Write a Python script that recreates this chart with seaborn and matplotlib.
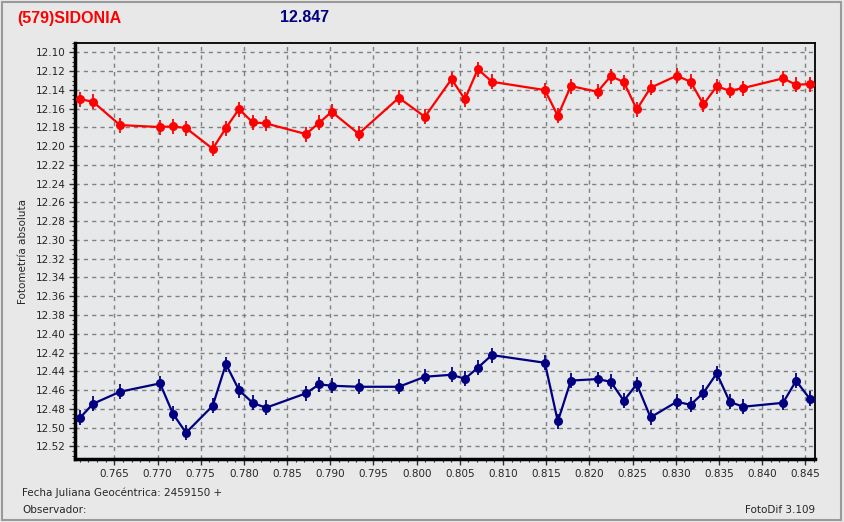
import numpy as np
import pandas as pd
import matplotlib
matplotlib.use('Agg')
import matplotlib.pyplot as plt
from matplotlib.ticker import MultipleLocator
import seaborn as sns

# fecha juliana (fraccion) de cada toma
jd = [0.76103, 0.76254, 0.76566, 0.77029, 0.77179, 0.77330, 0.77639, 0.77792,
      0.77943, 0.78101, 0.78255, 0.78718, 0.78872, 0.79016, 0.79328, 0.79794,
      0.80095, 0.80404, 0.80558, 0.80708, 0.80870, 0.81484, 0.81634, 0.81785,
      0.82094, 0.82247, 0.82398, 0.82548, 0.82707, 0.83011, 0.83170, 0.83320,
      0.83474, 0.83624, 0.83778, 0.84241, 0.84392, 0.84550]

mag_red = [12.1498, 12.1527, 12.1775, 12.1796, 12.1789, 12.1807, 12.2028, 12.1807,
           12.1604, 12.1746, 12.1757, 12.1871, 12.1751, 12.1633, 12.1868, 12.1484,
           12.1687, 12.1285, 12.1501, 12.1178, 12.1313, 12.1402, 12.1676, 12.1359,
           12.1420, 12.1253, 12.1317, 12.1608, 12.1377, 12.1249, 12.1313, 12.1554,
           12.1362, 12.1409, 12.1381, 12.1277, 12.1345, 12.1338]

mag_blue = [12.4896, 12.4746, 12.4618, 12.4529, 12.4853, 12.5055, 12.4768, 12.4323,
            12.4600, 12.4736, 12.4789, 12.4635, 12.4539, 12.4554, 12.4565, 12.4565,
            12.4458, 12.4437, 12.4480, 12.4362, 12.4227, 12.4309, 12.4934, 12.4499,
            12.4483, 12.4512, 12.4714, 12.4536, 12.4891, 12.4725, 12.4757, 12.4629,
            12.4422, 12.4725, 12.4778, 12.4736, 12.4501, 12.4693]

err = 0.008

bg = '#e8e8e9'
sns.set_theme(style='white', rc={'axes.facecolor': '#e6e8ea', 'figure.facecolor': bg})
plt.rcParams['font.family'] = ['DejaVu Sans']

df = pd.DataFrame({'jd': jd, 'red': mag_red, 'blue': mag_blue})

fig = plt.figure(figsize=(8.44, 5.22), dpi=100)
ax = fig.add_axes([75 / 844, 1 - 459 / 522, 740 / 844, 416 / 522])

for col, c in [('red', '#ff0000'), ('blue', '#000080')]:
    ax.errorbar(df['jd'], df[col], yerr=err, fmt='none', ecolor=c, elinewidth=1.3, zorder=3)
    sns.lineplot(data=df, x='jd', y=col, ax=ax, color=c, lw=1.6, marker='o',
                 markersize=6.5, markeredgewidth=0, zorder=4)

ax.set_xlim(0.76045, 0.84611)
ax.set_ylim(12.5335, 12.090)
ax.xaxis.set_major_locator(MultipleLocator(0.005))
ax.yaxis.set_major_locator(MultipleLocator(0.02))
ax.xaxis.set_minor_locator(MultipleLocator(0.001))
ax.yaxis.set_minor_locator(MultipleLocator(0.005))
ax.xaxis.set_major_formatter(matplotlib.ticker.FormatStrFormatter('%.3f'))
ax.yaxis.set_major_formatter(matplotlib.ticker.FormatStrFormatter('%.2f'))
ax.tick_params(axis='both', which='major', labelsize=7.5, length=4, width=1,
               color='#303030', pad=3, direction='out', left=True, bottom=True)
ax.tick_params(axis='both', which='minor', length=2, width=0.8, color='#303030',
               direction='out', left=True, bottom=True)
ax.grid(True, which='major', color='#808080', linestyle=(0, (3, 3)), lw=1)
ax.set_xlabel('')
ax.set_ylabel('Fotometría absoluta', fontsize=7.5, labelpad=8)
ax.yaxis.set_label_coords(-0.063, 0.5)

for s in ['left', 'bottom']:
    ax.spines[s].set_linewidth(2.5)
    ax.spines[s].set_color('black')
for s in ['top', 'right']:
    ax.spines[s].set_linewidth(1.3)
    ax.spines[s].set_color('black')
    ax.spines[s].set_visible(True)

fig.text(17 / 844, 1 - 18 / 522, '(579)SIDONIA', color='#ff0000', fontsize=11.5,
         fontweight='bold', family='Liberation Sans', va='center')
fig.text(280 / 844, 1 - 18 / 522, '12.847', color='#000080', fontsize=11.5,
         fontweight='bold', family='Liberation Sans', va='center')
fig.text(22 / 844, 1 - 493 / 522, 'Fecha Juliana Geocéntrica: 2459150 +', fontsize=7.5, va='center')
fig.text(22 / 844, 1 - 510 / 522, 'Observador:', fontsize=7.5, va='center')
fig.text(815 / 844, 1 - 510 / 522, 'FotoDif 3.109', fontsize=7.5, va='center', ha='right')

# marco de la ventana
frame = plt.Rectangle((0.002, 0.004), 0.995, 0.993, transform=fig.transFigure,
                      fill=False, edgecolor='#9a9a9a', lw=1.5)
fig.patches.append(frame)

fig.savefig('out.png', dpi=100, facecolor=bg)
